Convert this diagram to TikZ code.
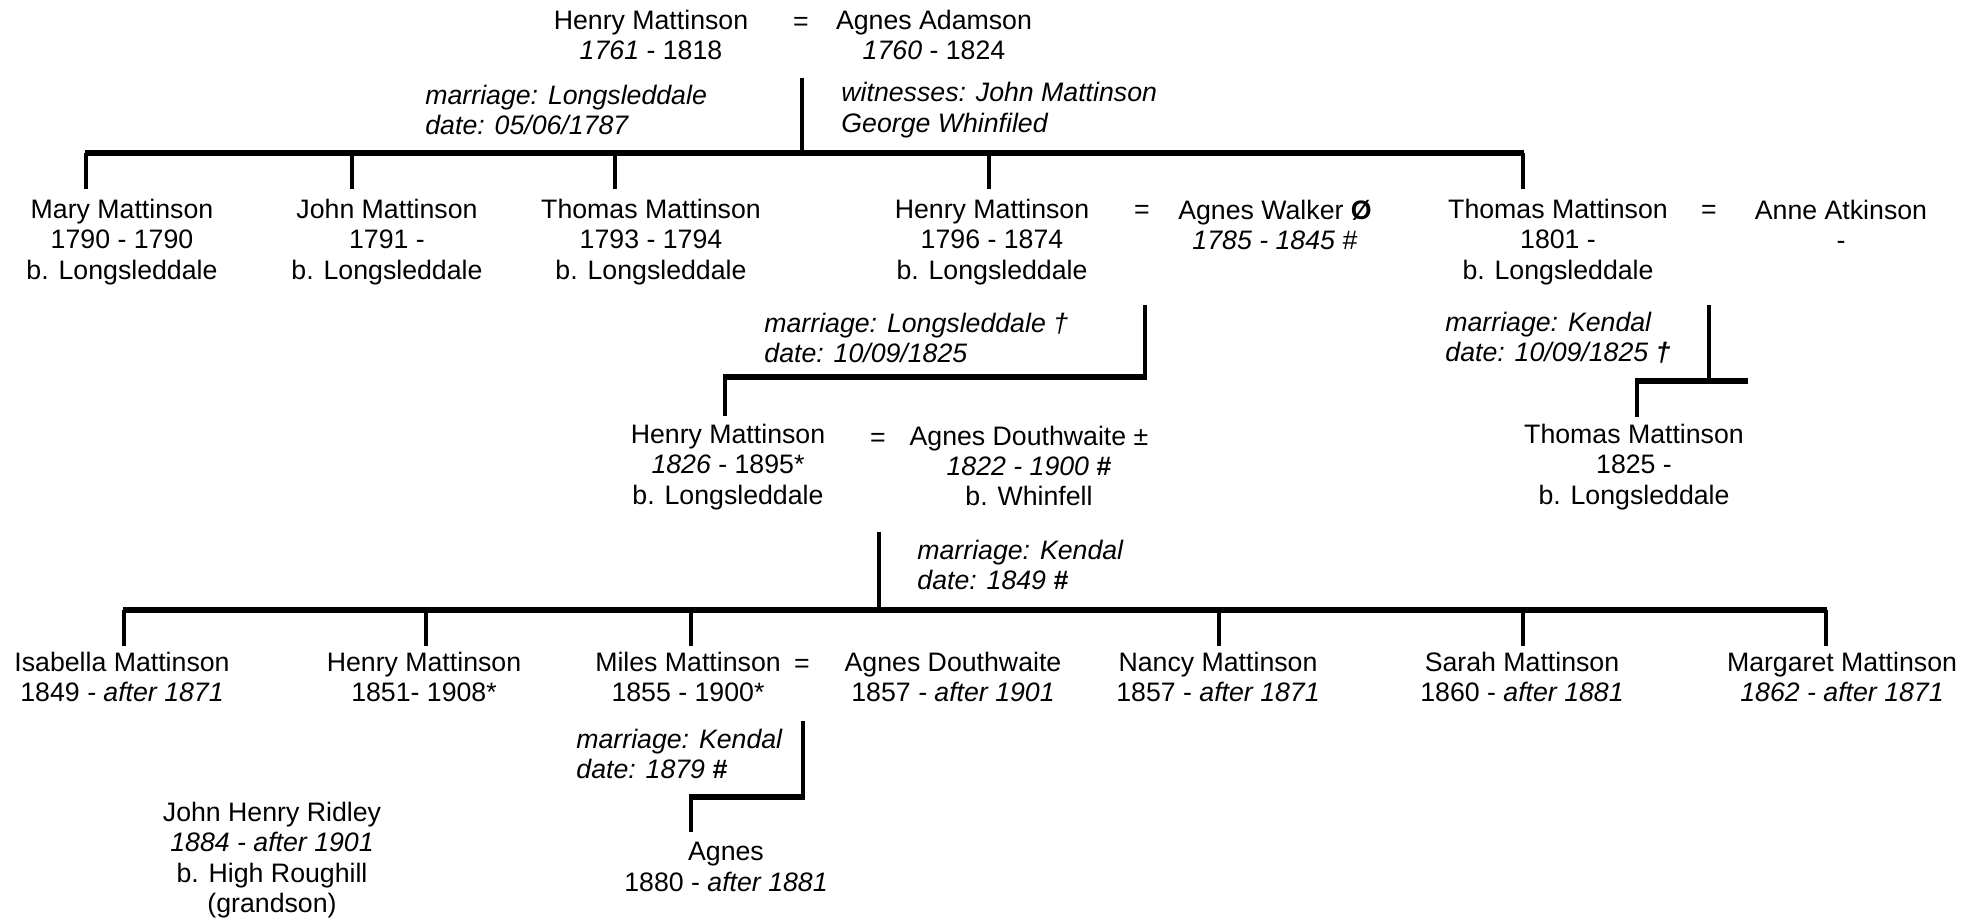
\documentclass[tikz,border=0pt]{standalone}
\usepackage{fontspec}
\setmainfont{Liberation Sans}
\begin{document}
\begin{tikzpicture}[x=0.5pt,y=-0.5pt,
  person/.style={align=center,inner sep=0pt,font=\fontsize{13.35}{15.2}\selectfont},
  note/.style={align=left,anchor=west,inner sep=0pt,font=\fontsize{13.35}{15.2}\selectfont\itshape},
  eqsign/.style={inner sep=0pt,font=\fontsize{13.35}{15.2}\selectfont},
  link/.style={line width=2pt},
  bar/.style={line width=2.8pt}]
\useasboundingbox (0,0) rectangle (1977,920);
% generation 1
\node[person] (henry1) at (651,35) {Henry Mattinson\\\textit{1761} - 1818};
\node[eqsign] (eq1) at (801,24) {=};
\node[person] (agnesA) at (934,35) {Agnes Adamson\\\textit{1760} - 1824};
\node[note] (note1) at (425,110) {marriage: Longsleddale\\date: 05/06/1787};
\node[note] (wit1) at (841,110) {witnesses: John Mattinson\\George Whinfiled};
% generation 2
\node[person] (mary) at (122,242) {Mary Mattinson\\1790 - 1790\\b. Longsleddale};
\node[person] (john) at (387,242) {John Mattinson\\1791 -\\b. Longsleddale};
\node[person] (thomas1) at (651,242) {Thomas Mattinson\\1793 - 1794\\b. Longsleddale};
\node[person] (henry2) at (992,242) {Henry Mattinson\\1796 - 1874\\b. Longsleddale};
\node[eqsign] (eq2) at (1142,212) {=};
\node[person] (agnesW) at (1275,225) {Agnes Walker \textbf{Ø}\\\textit{1785 - 1845 \#}};
\node[person] (thomas2) at (1558,242) {Thomas Mattinson\\1801 -\\b. Longsleddale};
\node[eqsign] (eq3) at (1709,212) {=};
\node[person] (anne) at (1841,225) {Anne Atkinson\\-};
\node[note] (note2) at (764,338) {marriage: Longsleddale †\\date: 10/09/1825};
\node[note] (note3) at (1445,338) {marriage: Kendal\\date: 10/09/1825 \textbf{†}};
% generation 3
\node[person] (henry3) at (728,467) {Henry Mattinson\\\textit{1826} - 1895*\\b. Longsleddale};
\node[eqsign] (eq4) at (878,440) {=};
\node[person] (agnesD) at (1029,466) {Agnes Douthwaite ±\\\textit{1822 - 1900} \textbf{\#}\\b. Whinfell};
\node[person] (thomas3) at (1634,467) {Thomas Mattinson\\1825 -\\b. Longsleddale};
\node[note] (note4) at (917,565) {marriage: Kendal\\date: 1849 \textbf{\#}};
% generation 4
\node[person] (isabella) at (122,677) {Isabella Mattinson\\1849 \textit{- after 1871}};
\node[person] (henry4) at (424,677) {Henry Mattinson\\1851- 1908*};
\node[person] (miles) at (688,677) {Miles Mattinson\\1855 - 1900*};
\node[eqsign] (eq5) at (802,666) {=};
\node[person] (agnesD2) at (953,677) {Agnes Douthwaite\\1857 \textit{- after 1901}};
\node[person] (nancy) at (1218,677) {Nancy Mattinson\\1857 - \textit{after 1871}};
\node[person] (sarah) at (1522,677) {Sarah Mattinson\\1860 - \textit{after 1881}};
\node[person] (margaret) at (1842,677) {Margaret Mattinson\\\textit{1862 - after 1871}};
\node[note] (note5) at (576,754) {marriage: Kendal\\date: 1879 \textbf{\#}};
% generation 5
\node[person] (agnes5) at (726,867) {Agnes\\1880 - \textit{after 1881}};
\node[person] (ridley) at (272,860) {John Henry Ridley\\\textit{1884 - after 1901}\\b. High Roughill\\(grandson)};
% junction coordinates
\coordinate (m1top) at (802,78);
\coordinate (m1bar) at (802,153);
\coordinate (b1l) at (85,153);
\coordinate (b1r) at (1524,153);
\coordinate (c1) at (86,189);
\coordinate (c2) at (352,189);
\coordinate (c3) at (615,189);
\coordinate (c4) at (989,189);
\coordinate (c5) at (1523,189);
\coordinate (m2top) at (1145,305);
\coordinate (m2bar) at (1145,377);
\coordinate (m2l) at (725,377);
\coordinate (c6) at (725,416);
\coordinate (m3top) at (1709,305);
\coordinate (m3bar) at (1709,381);
\coordinate (m3l) at (1637,381);
\coordinate (m3r) at (1748,381);
\coordinate (c7) at (1637,417);
\coordinate (m4top) at (879,532);
\coordinate (m4bar) at (879,610);
\coordinate (b4l) at (123,610);
\coordinate (b4r) at (1827,610);
\coordinate (d1) at (124,646);
\coordinate (d2) at (426,646);
\coordinate (d3) at (691,646);
\coordinate (d4) at (1219,646);
\coordinate (d5) at (1523,646);
\coordinate (d6) at (1826,646);
\coordinate (m5top) at (803,721);
\coordinate (m5bar) at (803,797);
\coordinate (m5l) at (691,797);
\coordinate (c8) at (691,832);
% connectors
\draw[link] (m1top) -- (m1bar);
\draw[bar] (b1l) -- (b1r);
\foreach \c in {c1,c2,c3,c4,c5} \draw[link] (\c |- b1l) -- (\c);
\draw[link,shorten >=-1.4pt] (m2top) -- (m2bar);
\draw[bar] (m2bar) -- (m2l);
\draw[link,shorten <=-1.4pt] (m2l) -- (c6);
\draw[link] (m3top) -- (m3bar);
\draw[bar] (m3l) -- (m3r);
\draw[link,shorten <=-1.4pt] (m3l) -- (c7);
\draw[link] (m4top) -- (m4bar);
\draw[bar] (b4l) -- (b4r);
\foreach \d in {d1,d2,d3,d4,d5,d6} \draw[link] (\d |- b4l) -- (\d);
\draw[link,shorten >=-1.4pt] (m5top) -- (m5bar);
\draw[bar] (m5bar) -- (m5l);
\draw[link,shorten <=-1.4pt] (m5l) -- (c8);
\end{tikzpicture}
\end{document}
